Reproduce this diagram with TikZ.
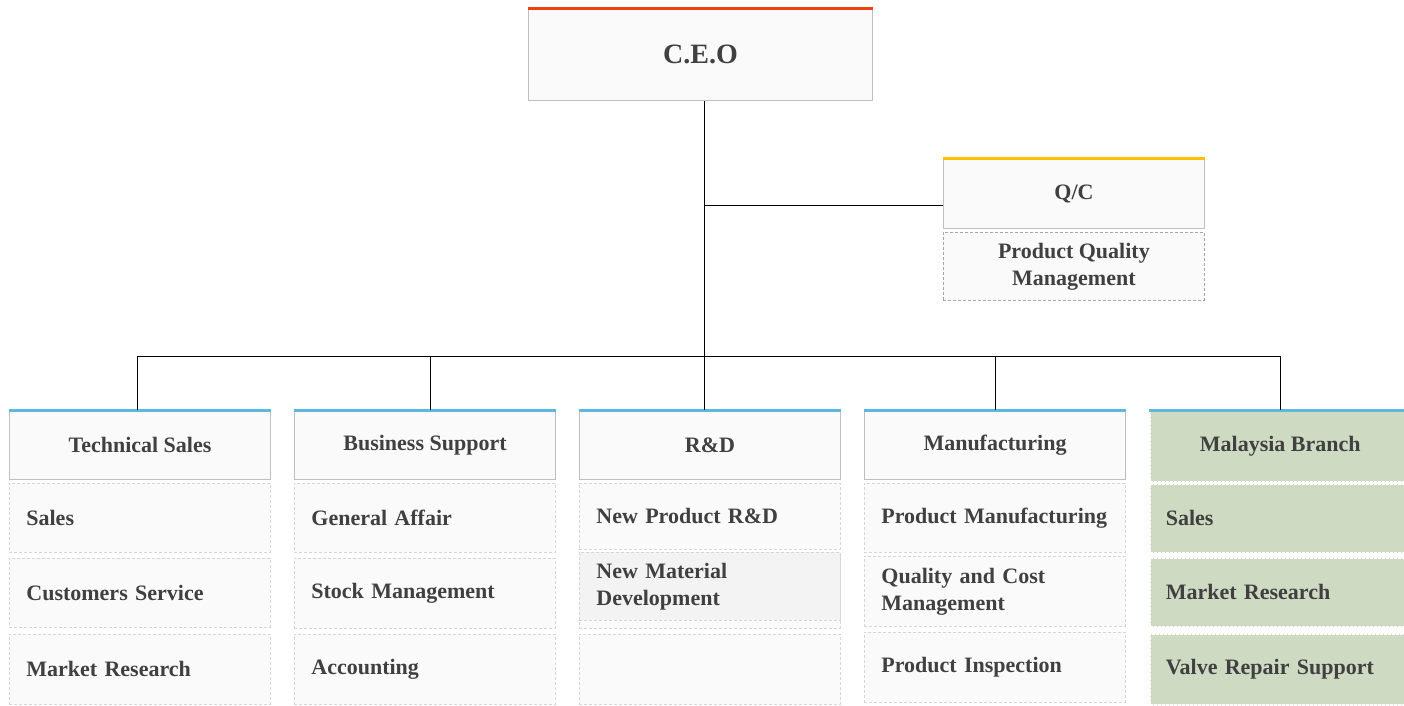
\documentclass[tikz,border=0pt]{standalone}
\usepackage{fontspec}
\setmainfont{Liberation Serif}
\definecolor{txt}{HTML}{404040}
\definecolor{boxfill}{HTML}{FAFAFA}
\definecolor{hdrline}{HTML}{BFBFBF}
\definecolor{subline}{HTML}{D6D6D6}
\definecolor{pqmline}{HTML}{A6A6A6}
\definecolor{accblue}{HTML}{5BB9DD}
\definecolor{accred}{HTML}{F0400F}
\definecolor{accyellow}{HTML}{FFC000}
\definecolor{green}{HTML}{CFDAC3}
\definecolor{shade}{HTML}{F3F3F3}
\begin{document}
\begin{tikzpicture}[x=1pt,y=-1pt,
  every node/.style={font=\bfseries\fontsize{22}{27}\selectfont, text=txt},
  boxbase/.style={anchor=north west, minimum width=261pt, minimum height=69pt, inner ysep=0pt},
  hdr/.style={boxbase, draw=hdrline, fill=boxfill, line width=1pt, inner xsep=0pt, align=center},
  sub/.style={boxbase, draw=subline, dash pattern=on 3pt off 2pt, fill=boxfill, line width=0.8pt, text width=227pt, inner xsep=17pt, align=left},
  ghdr/.style={boxbase, fill=green, draw=white, dash pattern=on 3pt off 1pt, line width=1.5pt, inner xsep=0pt, align=center},
  gsub/.style={boxbase, fill=green, draw=white, dash pattern=on 3pt off 1pt, line width=1.5pt, text width=229pt, inner xsep=16pt, align=left},
  accent/.style={line width=3pt, draw=#1},
  conn/.style={draw=black, line width=0.9pt}
]
\useasboundingbox (0,0) rectangle (1404,705);
\clip (0,0) rectangle (1404,705);
\fill[white] (0,0) rectangle (1404,705);

% CEO
\node[hdr, minimum width=344pt, minimum height=92pt, font=\bfseries\fontsize{28}{32}\selectfont] (ceo) at (528,8) {C.E.O};
\draw[accent=accred] (ceo.north west) -- (ceo.north east);

% Q/C
\node[hdr, minimum height=70pt] (qc) at (943,158) {Q/C};
\draw[accent=accyellow] (qc.north west) -- (qc.north east);
\node[boxbase, draw=pqmline, dash pattern=on 3pt off 2pt, fill=boxfill, line width=0.8pt, minimum height=68pt, align=center, inner xsep=0pt] (pqm) at (943,232) {Product Quality\\Management};

% connectors
\coordinate (bus) at (704,356);
\coordinate (qcj) at (704,205);
\draw[conn] (bus |- ceo.south) -- (bus);
\draw[conn] (qcj) -- (qcj -| qc.west);

% column 1
\node[hdr] (h1) at (9,410) {Technical Sales};
\node[sub] (s11) at (9,483) {Sales};
\node[sub] (s12) at (9,558) {Customers Service};
\node[sub, minimum height=70pt] (s13) at (9,634) {Market Research};

% column 2
\node[hdr] (h2) at (294,410) {Business Support};
\node[sub] (s21) at (294,483) {General Affair};
\node[sub, minimum height=70pt] (s22) at (294,558) {Stock Management};
\node[sub, minimum height=70pt] (s23) at (294,634) {Accounting};

% column 3
\node[hdr] (h3) at (579,410) {R\&D};
\node[sub, minimum height=66pt] (s31) at (579,483) {New Product R\&D};
\node[sub, minimum height=72pt] (s32) at (579,556) {};
\node[sub, fill=shade, minimum height=68pt] (s32b) at (579,552) {New Material\\Development};
\node[sub, minimum height=70pt] (s33) at (579,634) {};

% column 4
\node[hdr] (h4) at (864,410) {Manufacturing};
\node[sub] (s41) at (864,483) {Product Manufacturing};
\node[sub, minimum height=70pt] (s42) at (864,556) {Quality and Cost\\Management};
\node[sub, minimum height=70pt] (s43) at (864,632) {Product Inspection};

% column 5
\node[ghdr, minimum height=71pt] (h5) at (1149,410) {Malaysia Branch};
\node[gsub, minimum height=69pt] (s51) at (1149,483) {Sales};
\node[gsub, minimum height=69pt] (s52) at (1149,557) {Market Research};
\node[gsub, minimum height=71pt] (s53) at (1149,633) {Valve Repair Support};

\foreach \h in {h1,h2,h3,h4,h5}{
  \draw[accent=accblue] (\h.north west) -- (\h.north east);
}

% drops
\draw[conn] ([xshift=-3pt]h1.north) |- (bus);
\draw[conn] ([xshift=5pt]h2.north) |- (bus);
\draw[conn] (bus |- h3.north) -- (bus);
\draw[conn] (h4.north) |- (bus);
\draw[conn] (h5.north) |- (bus);
\end{tikzpicture}
\end{document}
